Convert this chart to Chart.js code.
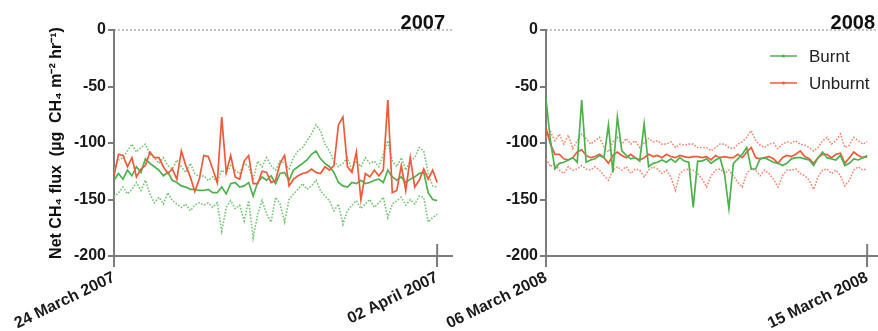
<!DOCTYPE html>
<html>
<head>
<meta charset="utf-8">
<script src="https://cdn.jsdelivr.net/npm/chart.js@4"></script>
<style>
  body { margin: 0; background: #fff; }
  #wrap { position: relative; width: 878px; height: 331px; overflow: hidden; }
  #wrap canvas { position: absolute; top: 0; }
</style>
</head>
<body>
<div id="wrap">
  <canvas id="c2007" width="460" height="331" style="left:0"></canvas>
  <canvas id="c2008" width="438" height="331" style="left:440px"></canvas>
</div>
<script>
// 3-hourly net CH4 flux (µg CH4 m-2 hr-1)
const ticks07 = ['24 March 2007', '02 April 2007'];
const ticks08 = ['06 March 2008', '15 March 2008'];
const yTicks = [0, -50, -100, -150, -200];
const legendLabels = ['Burnt', 'Unburnt'];

const unburnt07 = [-129,-110,-111,-121,-113,-130,-123,-120,-108,-113,-113,-121,-127,-123,-132,-107,-120,-130,-143,-132,-111,-112,-123,-135,-77,-126,-111,-130,-132,-116,-111,-136,-136,-125,-126,-135,-133,-118,-111,-138,-132,-129,-127,-126,-123,-126,-127,-121,-124,-120,-84,-77,-121,-126,-108,-150,-127,-130,-124,-129,-124,-62,-144,-142,-120,-142,-113,-139,-133,-123,-132,-124,-135];
const burnt07 = [-133,-127,-132,-124,-129,-121,-126,-114,-118,-121,-124,-129,-126,-133,-135,-138,-139,-141,-141,-142,-142,-141,-144,-144,-139,-145,-136,-135,-139,-138,-135,-147,-135,-130,-133,-129,-136,-127,-126,-133,-124,-121,-118,-115,-110,-107,-114,-118,-121,-126,-135,-138,-139,-135,-136,-133,-136,-135,-133,-132,-135,-124,-130,-133,-130,-135,-132,-130,-127,-126,-144,-150,-151];
const burnt07Hi = [-123,-115,-113,-107,-101,-108,-104,-101,-110,-113,-118,-113,-120,-123,-115,-121,-126,-118,-127,-130,-129,-133,-130,-135,-124,-127,-120,-124,-127,-118,-121,-133,-116,-121,-113,-120,-124,-116,-118,-123,-113,-107,-104,-98,-92,-84,-89,-101,-107,-116,-121,-118,-113,-124,-116,-121,-113,-118,-116,-121,-110,-98,-116,-121,-113,-124,-116,-113,-104,-107,-127,-138,-139];
const burnt07Lo = [-148,-144,-139,-145,-141,-135,-142,-133,-145,-153,-148,-154,-144,-151,-154,-157,-154,-160,-155,-153,-155,-153,-157,-153,-178,-157,-151,-158,-155,-169,-151,-184,-163,-151,-163,-170,-148,-154,-170,-150,-145,-141,-136,-141,-138,-133,-142,-147,-151,-160,-154,-172,-160,-155,-151,-158,-154,-150,-157,-153,-148,-166,-154,-151,-148,-155,-150,-154,-147,-148,-170,-166,-163];

const burnt08 = [-61,-98,-123,-118,-117,-115,-113,-117,-62,-117,-115,-114,-111,-113,-84,-126,-77,-107,-111,-114,-113,-116,-83,-121,-118,-117,-115,-117,-114,-117,-113,-116,-117,-157,-116,-116,-114,-118,-115,-113,-127,-158,-118,-114,-110,-104,-123,-123,-114,-113,-115,-117,-118,-120,-118,-114,-113,-113,-114,-115,-120,-113,-108,-113,-114,-115,-111,-120,-118,-114,-115,-113,-111];
const unburnt08 = [-87,-101,-110,-110,-114,-115,-113,-108,-106,-111,-113,-112,-110,-113,-118,-111,-108,-111,-113,-110,-113,-115,-113,-110,-112,-111,-113,-110,-112,-113,-111,-112,-113,-112,-112,-113,-112,-115,-111,-113,-112,-113,-113,-110,-113,-108,-104,-113,-114,-113,-112,-114,-118,-113,-111,-112,-110,-107,-112,-114,-118,-113,-110,-110,-113,-110,-109,-118,-113,-108,-111,-113,-112];
const unburnt08Hi = [-95,-90,-98,-92,-101,-93,-105,-98,-92,-96,-101,-98,-95,-104,-108,-99,-95,-101,-96,-101,-98,-104,-100,-96,-99,-98,-101,-101,-99,-104,-101,-102,-101,-101,-104,-104,-104,-107,-104,-101,-101,-104,-105,-101,-99,-95,-89,-98,-102,-104,-101,-100,-105,-101,-99,-100,-98,-101,-102,-104,-107,-104,-98,-95,-101,-98,-92,-104,-102,-95,-98,-101,-99];
const unburnt08Lo = [-114,-121,-118,-124,-127,-121,-124,-123,-120,-123,-124,-121,-124,-129,-133,-124,-121,-124,-121,-127,-123,-124,-130,-124,-121,-123,-127,-124,-130,-142,-127,-124,-123,-124,-127,-132,-139,-129,-124,-123,-127,-124,-129,-135,-139,-127,-123,-124,-129,-124,-127,-132,-139,-129,-124,-124,-123,-127,-129,-133,-141,-130,-124,-123,-127,-124,-129,-138,-133,-124,-121,-124,-123];

const steps = burnt07.map((_, i) => i);   // sample index along the 9 days
const lastStep = steps.length - 1;

const FONT = '"Liberation Sans", Arial, sans-serif';
const AXIS = '#7b7b7b';
const GREEN = '#4cb24c', GREEN_LT = '#72c672';
const RED = '#ef5a3a', RED_LT = '#f38a70';

const solid = (label, data, color) => ({ label, data, borderColor: color, borderWidth: 1.7, pointRadius: 0, fill: false });
const dotted = (label, data, color) => ({ label, data, borderColor: color, borderWidth: 1.6, borderDash: [1.6, 1.6], pointRadius: 0, fill: false });

const panelDeco = {
  id: 'panelDeco',
  beforeDatasetsDraw(chart, args, o) {
    const { ctx, chartArea: a, scales: { y } } = chart;
    const y0 = y.getPixelForValue(0);
    ctx.save();
    ctx.strokeStyle = '#888';
    ctx.lineWidth = 1;
    ctx.setLineDash([2, 2]);
    ctx.beginPath(); ctx.moveTo(a.left, y0); ctx.lineTo(a.right, y0); ctx.stroke();
    ctx.restore();
  },
  afterDraw(chart, args, o) {
    const { ctx, chartArea: a, scales: { x } } = chart;
    ctx.save();
    // end tick crosses the axis
    const xe = x.getPixelForValue(lastStep);
    ctx.strokeStyle = AXIS; ctx.lineWidth = 2;
    ctx.beginPath(); ctx.moveTo(xe, a.bottom - 12); ctx.lineTo(xe, a.bottom); ctx.stroke();
    // year
    ctx.fillStyle = '#111';
    ctx.font = `bold 20px ${FONT}`;
    ctx.textAlign = 'right';
    ctx.textBaseline = 'alphabetic';
    ctx.fillText(o.year, a.right + o.yearDx, a.top - 1);
    // legend
    if (o.legend) {
      const cols = [GREEN, RED];
      ctx.font = `17px ${FONT}`;
      ctx.textAlign = 'left';
      ctx.textBaseline = 'middle';
      legendLabels.forEach((t, i) => {
        const ly = a.top + 26 + i * 27;
        const lx = a.left + 224;
        ctx.strokeStyle = cols[i]; ctx.lineWidth = 1.5;
        ctx.beginPath(); ctx.moveTo(lx, ly); ctx.lineTo(lx + 27, ly); ctx.stroke();
        ctx.fillStyle = cols[i];
        ctx.beginPath(); ctx.arc(lx + 13.5, ly, 1.5, 0, Math.PI * 2); ctx.fill();
        ctx.fillStyle = '#222';
        ctx.fillText(t, lx + 39, ly + 1);
      });
    }
    ctx.restore();
  }
};

function makePanel(id, cfg) {
  return new Chart(document.getElementById(id), {
    type: 'line',
    data: { labels: steps, datasets: cfg.datasets },
    options: {
      responsive: false,
      animation: false,
      layout: { padding: { left: 0, right: cfg.padRight, top: 30, bottom: 0 } },
      elements: { line: { tension: 0 } },
      plugins: {
        legend: { display: false },
        tooltip: { enabled: false },
        panelDeco: { year: cfg.year, yearDx: cfg.yearDx, legend: cfg.legend }
      },
      scales: {
        x: {
          type: 'linear', min: 0, max: cfg.xMax,
          afterBuildTicks: s => { s.ticks = [{ value: 0 }, { value: lastStep }]; },
          afterFit: s => { s.height = 75; s.paddingLeft = 0; s.paddingRight = 0; },
          ticks: {
            autoSkip: false, minRotation: 26, maxRotation: 26, padding: 1,
            color: '#1a1a1a', font: { family: FONT, size: 16, weight: 'bold' },
            callback: v => v === 0 ? cfg.ticks[0] : cfg.ticks[1]
          },
          grid: { drawOnChartArea: false, tickLength: 11, color: AXIS, lineWidth: 2 },
          border: { color: AXIS, width: 2 }
        },
        y: {
          min: -200, max: 0,
          afterBuildTicks: s => { s.ticks = yTicks.map(v => ({ value: v })); },
          afterFit: s => { s.width = cfg.yWidth; s.paddingTop = 0; s.paddingBottom = 0; },
          ticks: { padding: 2, color: '#1a1a1a', font: { family: FONT, size: 16, weight: 'bold' } },
          grid: { drawOnChartArea: false, tickLength: 6, color: AXIS, lineWidth: 2 },
          border: { color: AXIS, width: 2 },
          title: {
            display: !!cfg.yTitle, text: cfg.yTitle, color: '#111',
            font: { family: FONT, size: 16, weight: 'bold' },
            padding: { top: 47, bottom: 0 }
          }
        }
      }
    },
    plugins: [panelDeco]
  });
}

// 2007: unburnt mean, burnt mean with dotted error band
makePanel('c2007', {
  year: '2007', yearDx: -7, legend: false,
  ticks: ticks07, yWidth: 114, padRight: 8, xMax: 75.3,
  yTitle: 'Net CH\u2084 flux  (\u00b5g  CH\u2084 m\u207b\u00b2 hr\u207b\u00b9)',
  datasets: [
    solid('Unburnt', unburnt07, RED),
    solid('Burnt', burnt07, GREEN),
    dotted('Burnt +', burnt07Hi, GREEN_LT),
    dotted('Burnt -', burnt07Lo, GREEN_LT)
  ]
});

// 2008: burnt mean, unburnt mean with dotted error band
makePanel('c2008', {
  year: '2008', yearDx: -2, legend: true,
  ticks: ticks08, yWidth: 106, padRight: 1, xMax: 74.2,
  yTitle: '',
  datasets: [
    solid('Burnt', burnt08, GREEN),
    solid('Unburnt', unburnt08, RED),
    dotted('Unburnt +', unburnt08Hi, RED_LT),
    dotted('Unburnt -', unburnt08Lo, RED_LT)
  ]
});
</script>
</body>
</html>
